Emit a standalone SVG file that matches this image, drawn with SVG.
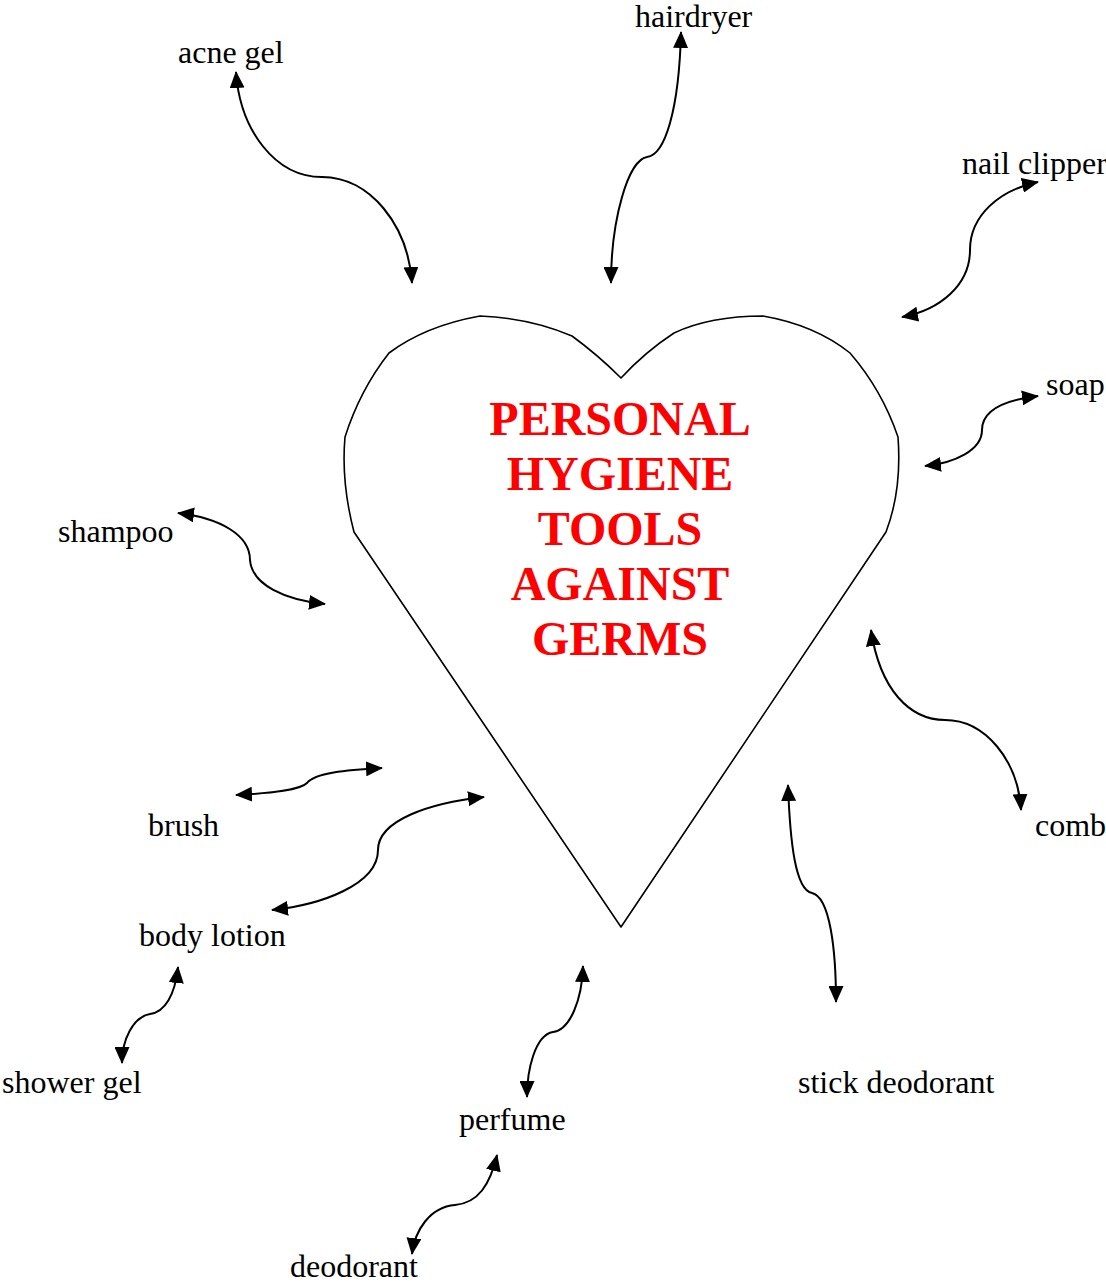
<svg xmlns="http://www.w3.org/2000/svg" width="1106" height="1285" viewBox="0 0 1106 1285">
<style>
.lbl{font-family:"Liberation Serif","Times New Roman",serif;font-size:32px;fill:#000}
.ttl{font-family:"Liberation Serif","Times New Roman",serif;font-size:48px;font-weight:bold;fill:#ff0000;text-anchor:middle}
.con{fill:none;stroke:#000;stroke-width:2;marker-start:url(#ah);marker-end:url(#ah)}
</style>
<defs>
<marker id="ah" markerUnits="userSpaceOnUse" markerWidth="17" markerHeight="15" refX="16" refY="7.5" orient="auto-start-reverse">
<path d="M0,0 L17,7.5 L0,15 z" fill="#000"/>
</marker>
</defs>
<rect width="1106" height="1285" fill="#fff"/>
<g id="heart">
<path d="M621,927 L354,532 Q341,482 345,437 Q360,390 389,353 Q425,326 480,316 Q530,318 572,336 Q598,355 621,378 Q645,352 674,333 Q710,316 763,316 Q815,325 850,353 Q882,390 898,437 Q902,490 886,532 Z" fill="#fff" stroke="#000" stroke-width="1.6" stroke-linejoin="round"/>
<text class="ttl"><tspan x="620" y="435">PERSONAL</tspan><tspan x="620" y="490">HYGIENE</tspan><tspan x="620" y="545">TOOLS</tspan><tspan x="620" y="600">AGAINST</tspan><tspan x="620" y="655">GERMS</tspan></text>
</g>
<g id="acne-gel"><text class="lbl" x="178" y="63">acne gel</text></g>
<g id="hairdryer"><text class="lbl" x="635" y="27">hairdryer</text></g>
<g id="nail-clipper"><text class="lbl" x="962" y="174">nail clipper</text></g>
<g id="soap"><text class="lbl" x="1046" y="395">soap</text></g>
<g id="shampoo"><text class="lbl" x="58" y="542">shampoo</text></g>
<g id="brush"><text class="lbl" x="148" y="836">brush</text></g>
<g id="comb"><text class="lbl" x="1035" y="836">comb</text></g>
<g id="body-lotion"><text class="lbl" x="139" y="946">body lotion</text></g>
<g id="shower-gel"><text class="lbl" x="2" y="1093">shower gel</text></g>
<g id="stick-deodorant"><text class="lbl" x="798" y="1093">stick deodorant</text></g>
<g id="perfume"><text class="lbl" x="459" y="1130">perfume</text></g>
<g id="deodorant"><text class="lbl" x="290" y="1277">deodorant</text></g>
<g id="connectors">
<path class="con" d="M236,72 C240,130 275,177 322,177 C370,177 408,225 412,283"/>
<path class="con" d="M681,32 C679,110 665,155 647,157 C628,160 611,220 611,283"/>
<path class="con" d="M1038,182 C1000,190 970,215 970,250 C970,285 940,310 902,317"/>
<path class="con" d="M1038,396 C1005,400 982,410 982,430 C982,450 955,463 925,466"/>
<path class="con" d="M178,513 C220,518 250,535 250,560 C252,585 285,600 325,604"/>
<path class="con" d="M236,795 C275,793 300,790 307,783 C315,773 345,770 382,768"/>
<path class="con" d="M484,797 C430,803 378,820 378,850 C378,885 320,905 272,910"/>
<path class="con" d="M178,967 C175,995 165,1012 150,1014 C133,1017 122,1040 122,1063"/>
<path class="con" d="M583,966 C582,1000 570,1030 553,1032 C535,1035 527,1070 527,1097"/>
<path class="con" d="M497,1155 C490,1185 478,1203 455,1205 C430,1207 415,1230 412,1254"/>
<path class="con" d="M871,630 C880,690 910,720 945,720 C985,720 1018,760 1021,810"/>
<path class="con" d="M788,785 C790,840 795,890 812,893 C830,897 836,950 836,1002"/>
</g>
</svg>
